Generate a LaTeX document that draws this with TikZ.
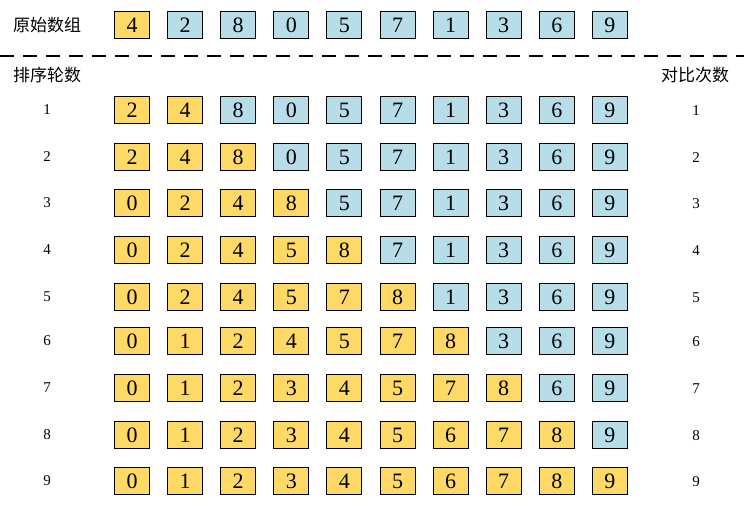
\documentclass[tikz,border=0pt]{standalone}
\usepackage{fontspec}
\setmainfont{Liberation Serif}
\newfontfamily\cjk{Noto Sans CJK SC}
\definecolor{yel}{RGB}{255,217,102}
\definecolor{blu}{RGB}{182,221,232}
\tikzset{
  cell/.style={draw, line width=0.9pt, minimum width=35pt, minimum height=27pt, inner sep=0pt, font=\fontsize{22}{22}\selectfont},
  cjklabel/.style={font=\cjk\fontsize{17}{17}\selectfont},
  numlabel/.style={font=\fontsize{15}{15}\selectfont},
  sep/.style={line width=2.2pt, dash pattern=on 14pt off 9pt}
}
\begin{document}
\begin{tikzpicture}[x=1pt,y=-1pt]
\useasboundingbox (0,0) rectangle (744,524);
\node[cjklabel] (orig) at (47,25) {原始数组};
\node[cjklabel] (rounds) at (47,75) {排序轮数};
\node[cjklabel] (cmps) at (695,75) {对比次数};
\coordinate (sepL) at (0,56);
\coordinate (sepR) at (744,56);
\draw[sep] (sepL) -- (sepR);
\foreach \r/\y/\k/\vals in {
  0/25/1/{4,2,8,0,5,7,1,3,6,9},
  1/110/2/{2,4,8,0,5,7,1,3,6,9},
  2/157/3/{2,4,8,0,5,7,1,3,6,9},
  3/203/4/{0,2,4,8,5,7,1,3,6,9},
  4/250/5/{0,2,4,5,8,7,1,3,6,9},
  5/297/6/{0,2,4,5,7,8,1,3,6,9},
  6/341/7/{0,1,2,4,5,7,8,3,6,9},
  7/388/8/{0,1,2,3,4,5,7,8,6,9},
  8/435/9/{0,1,2,3,4,5,6,7,8,9},
  9/481/10/{0,1,2,3,4,5,6,7,8,9}}{
  \foreach \v [count=\i] in \vals {
    \pgfmathsetmacro\xx{132+53.1*(\i-1)}
    \ifnum\i>\k\relax \def\cc{blu}\else \def\cc{yel}\fi
    \node[cell, fill=\cc] (c-\r-\i) at (\xx,\y) {\v};
  }
  \ifnum\r>0
    \node[numlabel] (L-\r) at (47,\y) {\r};
    \node[numlabel] (R-\r) at (696,\y+1) {\r};
  \fi
}
\end{tikzpicture}
\end{document}
